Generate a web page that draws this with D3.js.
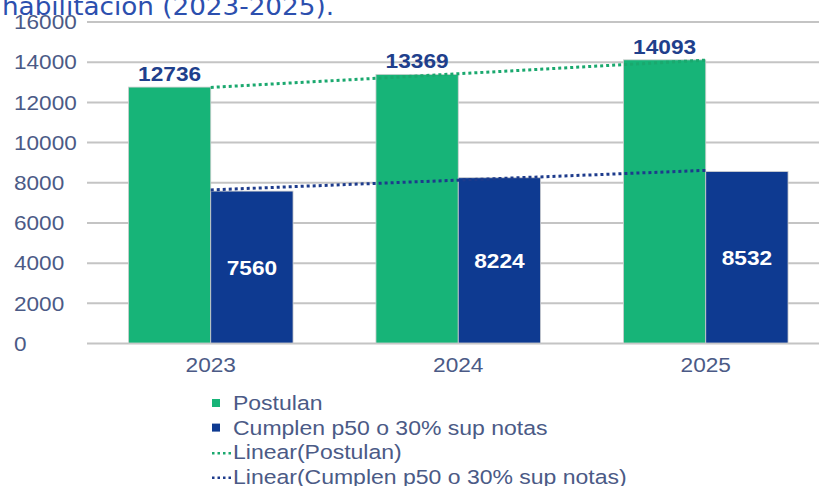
<!DOCTYPE html>
<html>
<head>
<meta charset="utf-8">
<script src="https://cdn.jsdelivr.net/npm/d3@7"></script>
<style>
  body { margin: 0; background: #fff; }
  svg { display: block; font-family: "Liberation Sans", Arial, sans-serif; }
</style>
</head>
<body>
<div id="chart"></div>
<script>
// data
const years = ["2023", "2024", "2025"];
const postulan = [12736, 13369, 14093];
const cumplen = [7560, 8224, 8532];
const yTicks = [0, 2000, 4000, 6000, 8000, 10000, 12000, 14000, 16000];
const seriesNames = ["Postulan", "Cumplen p50 o 30% sup notas"];
const titleText = "habilitacion (2023-2025).";

const green = "#17b478", blue = "#0e3a91", textCol = "#4b5a86", labelBlue = "#1f3f8c";

const W = 819, H = 486;
const svg = d3.select("#chart").append("svg")
  .attr("width", W).attr("height", H);

// scales
const x0 = d3.scaleBand().domain(years).range([87, 829.5])
  .paddingInner(0.335).paddingOuter(0.1675);
const x1 = d3.scaleBand().domain([0, 1]).range([0, x0.bandwidth()]);
const y = d3.scaleLinear().domain([0, 16000]).range([343, 21.5]);

// title (cut at top)
svg.append("text")
  .attr("x", 2).attr("y", 15)
  .attr("textLength", 332).attr("lengthAdjust", "spacingAndGlyphs")
  .style("font-family", "'DejaVu Sans', sans-serif")
  .style("font-size", "24px")
  .style("fill", "#2c4fae")
  .text(titleText);

// gridlines + y labels
const yAxis = svg.append("g")
  .attr("transform", "translate(87,0)")
  .call(d3.axisLeft(y).tickValues(yTicks).tickSize(-(W - 87)).tickFormat(d3.format("d")));
yAxis.select(".domain").remove();
yAxis.selectAll(".tick line").attr("stroke", "#c4c4c4").attr("stroke-width", 2);
yAxis.selectAll(".tick text")
  .attr("x", 0).attr("dy", "0.36em")
  .attr("text-anchor", "start")
  .attr("transform", `translate(${14 - 87},0) scale(1.13,1)`)
  .style("font-size", "20px")
  .style("fill", textCol);

// x labels
const xAxis = svg.append("g")
  .attr("transform", "translate(0,343)")
  .call(d3.axisBottom(x0).tickSize(0));
xAxis.select(".domain").remove();
xAxis.selectAll(".tick text")
  .attr("y", 0).attr("dy", 0)
  .attr("transform", "translate(0,29) scale(1.08,1)")
  .style("font-size", "21px")
  .style("fill", textCol);

// bars
const series = [postulan, cumplen];
const colors = [green, blue];
series.forEach((vals, s) => {
  svg.append("g").selectAll("rect")
    .data(vals)
    .join("rect")
      .attr("x", (d, i) => x0(years[i]) + x1(s))
      .attr("y", d => y(d))
      .attr("width", x1.bandwidth())
      .attr("height", d => y(0) - y(d))
      .attr("fill", colors[s])
      .attr("stroke", "#cfcfcf")
      .attr("stroke-width", 0.8);
});

// trend lines (least squares, like Excel "Linear")
function linFit(vals) {
  const xs = vals.map((d, i) => i + 1);
  const mx = d3.mean(xs), my = d3.mean(vals);
  const b = d3.sum(xs, (xv, i) => (xv - mx) * (vals[i] - my)) / d3.sum(xs, xv => (xv - mx) ** 2);
  return xs.map(xv => my + b * (xv - mx));
}
const line = d3.line()
  .x((d, i) => x0(years[i]) + x0.bandwidth() / 2)
  .y(d => y(d));
series.forEach((vals, s) => {
  svg.append("path")
    .datum(linFit(vals))
    .attr("d", line)
    .attr("fill", "none")
    .attr("stroke", s === 0 ? "#1aa86e" : "#1d3b8c")
    .attr("stroke-width", 3)
    .attr("stroke-dasharray", "3,3");
});

// data labels
svg.append("g").selectAll("g")
  .data(postulan)
  .join("g")
    .attr("transform", (d, i) => `translate(${x0(years[i]) + x1(0) + x1.bandwidth() / 2},${y(d) - 6}) scale(1.08,1)`)
  .append("text")
    .attr("text-anchor", "middle")
    .style("font-size", "21px").style("font-weight", "bold")
    .style("fill", labelBlue)
    .text(d => d);

svg.append("g").selectAll("g")
  .data(cumplen)
  .join("g")
    .attr("transform", (d, i) => `translate(${x0(years[i]) + x1(1) + x1.bandwidth() / 2},${(y(d) + y(0)) / 2}) scale(1.08,1)`)
  .append("text")
    .attr("text-anchor", "middle").attr("dy", "0.36em")
    .style("font-size", "21px").style("font-weight", "bold")
    .style("fill", "#fff")
    .text(d => d);

// legend
const legendItems = [
  { name: seriesNames[0], type: "box", color: green },
  { name: seriesNames[1], type: "box", color: blue },
  { name: "Linear(" + seriesNames[0] + ")", type: "dot", color: "#1aa86e" },
  { name: "Linear(" + seriesNames[1] + ")", type: "dot", color: "#1d3b8c" }
];
const leg = svg.append("g").selectAll("g")
  .data(legendItems)
  .join("g")
    .attr("transform", (d, i) => `translate(212,${403 + i * 24.6})`);
leg.filter(d => d.type === "box").append("rect")
  .attr("x", 0).attr("y", -4).attr("width", 8).attr("height", 8)
  .attr("fill", d => d.color);
leg.filter(d => d.type === "dot").append("line")
  .attr("x1", 0).attr("x2", 19).attr("y1", 1).attr("y2", 1)
  .attr("stroke", d => d.color).attr("stroke-width", 2.5)
  .attr("stroke-dasharray", "2.5,3");
leg.append("text")
  .attr("transform", "translate(21,0) scale(1.18,1)")
  .attr("dy", "0.36em")
  .style("font-size", "19.5px")
  .style("fill", textCol)
  .text(d => d.name);
</script>
</body>
</html>
